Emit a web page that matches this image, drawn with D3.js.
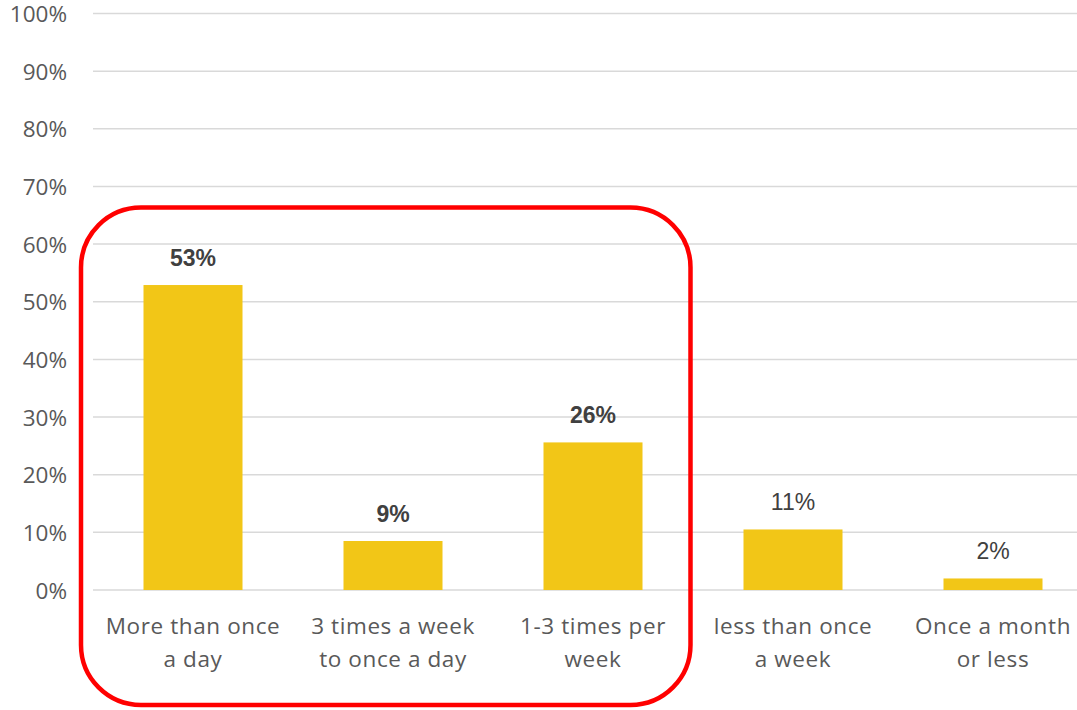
<!DOCTYPE html>
<html>
<head>
<meta charset="utf-8">
<script src="https://cdn.jsdelivr.net/npm/d3@7"></script>
<style>
  html, body { margin: 0; padding: 0; background: #fff; }
  svg { display: block; }
</style>
</head>
<body>
<svg id="chart" width="1077" height="710"></svg>
<script>
// Survey: how often respondents do it
const categories = [
  ["More than once", "a day"],
  ["3 times a week", "to once a day"],
  ["1-3 times per", "week"],
  ["less than once", "a week"],
  ["Once a month", "or less"]
];
const values = [52.9, 8.5, 25.6, 10.5, 2.0];
const highlighted = [true, true, true, false, false];
const yTicks = [0, 10, 20, 30, 40, 50, 60, 70, 80, 90, 100];

const svg = d3.select("#chart");
const W = 1077, H = 710;

const x = d3.scaleBand()
  .domain(d3.range(categories.length))
  .range([93, 1093])
  .paddingInner(0.505)
  .paddingOuter(0.2525);

const y = d3.scaleLinear().domain([0, 100]).range([590, 13.5]);

// gridlines
svg.append("g")
  .selectAll("line")
  .data(yTicks)
  .join("line")
  .attr("x1", 93).attr("x2", W)
  .attr("y1", d => y(d)).attr("y2", d => y(d))
  .attr("stroke", "#d9d9d9")
  .attr("stroke-width", 1.5);

// y axis labels
const yAxis = d3.axisLeft(y).tickValues(yTicks).tickFormat(d => d + "%").tickSize(0).tickPadding(0);
const gy = svg.append("g").attr("transform", "translate(67,0)").call(yAxis);
gy.select(".domain").remove();
gy.selectAll("text")
  .attr("font-family", "'Open Sans', sans-serif")
  .attr("font-size", 22.5)
  .attr("fill", "#595959")
  .attr("dy", "0.36em");

// bars
svg.append("g")
  .selectAll("rect")
  .data(values)
  .join("rect")
  .attr("x", (d, i) => x(i))
  .attr("width", x.bandwidth())
  .attr("y", d => y(d))
  .attr("height", d => y(0) - y(d))
  .attr("fill", "#F2C617");

// value labels
svg.append("g")
  .selectAll("text")
  .data(values)
  .join("text")
  .attr("x", (d, i) => x(i) + x.bandwidth() / 2)
  .attr("y", d => y(d) - 19)
  .attr("text-anchor", "middle")
  .attr("font-family", "'Liberation Sans', Arial, sans-serif")
  .attr("font-size", 23)
  .attr("font-weight", (d, i) => highlighted[i] ? "bold" : "normal")
  .attr("fill", "#404040")
  .text(d => Math.round(d) + "%");

// category labels (two lines)
const cat = svg.append("g")
  .selectAll("text")
  .data(categories)
  .join("text")
  .attr("text-anchor", "middle")
  .attr("font-family", "'Open Sans', sans-serif")
  .attr("font-size", 22.5)
  .attr("letter-spacing", 0.6)
  .attr("fill", "#595959");
cat.each(function(lines, i) {
  const t = d3.select(this);
  lines.forEach((ln, k) => {
    t.append("tspan")
      .attr("x", x(i) + x.bandwidth() / 2)
      .attr("y", 634 + k * 33)
      .text(ln);
  });
});

// highlight box around the first three categories
svg.append("rect")
  .attr("x", 81).attr("y", 207.5)
  .attr("width", 690.5 - 81).attr("height", 705 - 207.5)
  .attr("rx", 60).attr("ry", 60)
  .attr("fill", "none")
  .attr("stroke", "#ff0000")
  .attr("stroke-width", 4.5);
</script>
</body>
</html>
